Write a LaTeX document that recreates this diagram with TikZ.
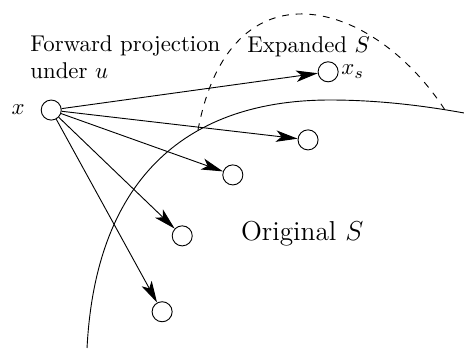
\documentclass[tikz,border=0pt]{standalone}
\usepackage{amsmath}
\usetikzlibrary{arrows.meta}

\begin{document}
\begin{tikzpicture}[
    state/.style={draw, circle, minimum size=8.8pt, inner sep=0pt},
    proj/.style={-{Stealth[length=9.5pt, width=5pt, inset=2.4pt]}},
    txt/.style={font=\normalsize, inner sep=0pt},
]
\useasboundingbox (0,0) rectangle (7.155,5.397);

% ---------- original set S (solid) and expanded set S (dashed) ----------
\draw (1.342,0.031) .. controls (1.480,2.699) and (2.930,3.855) .. (5.089,3.855)
      .. controls (5.783,3.855) and (6.476,3.778) .. (7.155,3.655);
\draw[dashed] (3.053,3.392) .. controls (3.547,6.02) and (5.736,5.43) .. (6.862,3.701);

% ---------- states ----------
\node[state, label={[label distance=3.5pt]left:$x$}] (x) at (0.79,3.70) {};
\node[state, label={[inner sep=1pt]right:$x_s$}] (xs) at (5.06,4.29) {};
\node[state] (y1) at (4.75,3.24) {};
\node[state] (y2) at (3.59,2.70) {};
\node[state] (y3) at (2.81,1.76) {};
\node[state] (y4) at (2.50,0.59) {};

% ---------- forward projections ----------
\draw[proj] (x) -- (xs);
\draw[proj] (x) -- (y1);
\draw[proj] (x) -- (y2);
\draw[proj] (x) -- (y3);
\draw[proj] (x) -- (y4);

% ---------- labels ----------
\node[txt, align=left, anchor=north west] (fwd) at (0.463,4.86) {Forward projection\\under $u$};
\node[txt] (expS) at (4.76,4.67) {Expanded $S$};
\node[txt, font=\large] (origS) at (4.66,1.79) {Original $S$};

\end{tikzpicture}
\end{document}
